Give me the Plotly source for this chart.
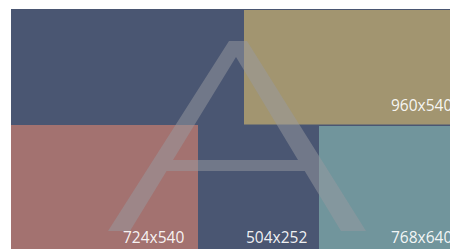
import plotly.graph_objects as go

# Tiles: label, extents (axis units), colour
labels = ["504x252", "960x540", "724x540", "768x640"]
x_start = [0, 233, 0, 308]
x_end = [310, 455, 187, 455]
y_start = [0, 1, 116, 117]
y_end = [248, 115.5, 248, 248]
tile_colors = ["#4a5672", "#a29570", "#a37270", "#71959c"]

# Watermark glyph outline "A" (axis units)
glyph_x = [97, 218, 236, 355, 330, 293.7, 155.6, 162, 287, 225, 162, 155.6, 119, 97]
glyph_y = [222, 32, 32, 222, 222, 162, 162, 151, 151, 48, 151, 162, 222, 222]

fig = go.Figure()
for lab, a, b, c, d, col in zip(labels, x_start, x_end, y_start, y_end, tile_colors):
    fig.add_trace(go.Scatter(
        x=[a, b, b, a, a], y=[c, c, d, d, c],
        mode="lines", fill="toself", fillcolor=col,
        line=dict(width=0, color=col), hoverinfo="skip", name=lab))

fig.add_trace(go.Scatter(
    x=glyph_x, y=glyph_y, mode="lines", fill="toself",
    fillcolor="rgba(152,154,160,0.5)", line=dict(width=0, color="rgba(0,0,0,0)"),
    hoverinfo="skip", name="A"))

for lab, b, d in zip(labels, x_end, y_end):
    fig.add_annotation(x=b - 12, y=d - 20, text=lab, showarrow=False,
                       xanchor="right", yanchor="middle",
                       font=dict(family="Open Sans", size=15.5, color="rgba(255,255,255,0.93)"))

fig.update_layout(
    width=458, height=249,
    margin=dict(l=3, r=0, t=1, b=0, pad=0),
    paper_bgcolor="white", plot_bgcolor="#4a5672",
    showlegend=False,
    xaxis=dict(range=[0, 455], visible=False, fixedrange=True),
    yaxis=dict(range=[248, 0], visible=False, fixedrange=True),
)
fig.write_html("out.html")
